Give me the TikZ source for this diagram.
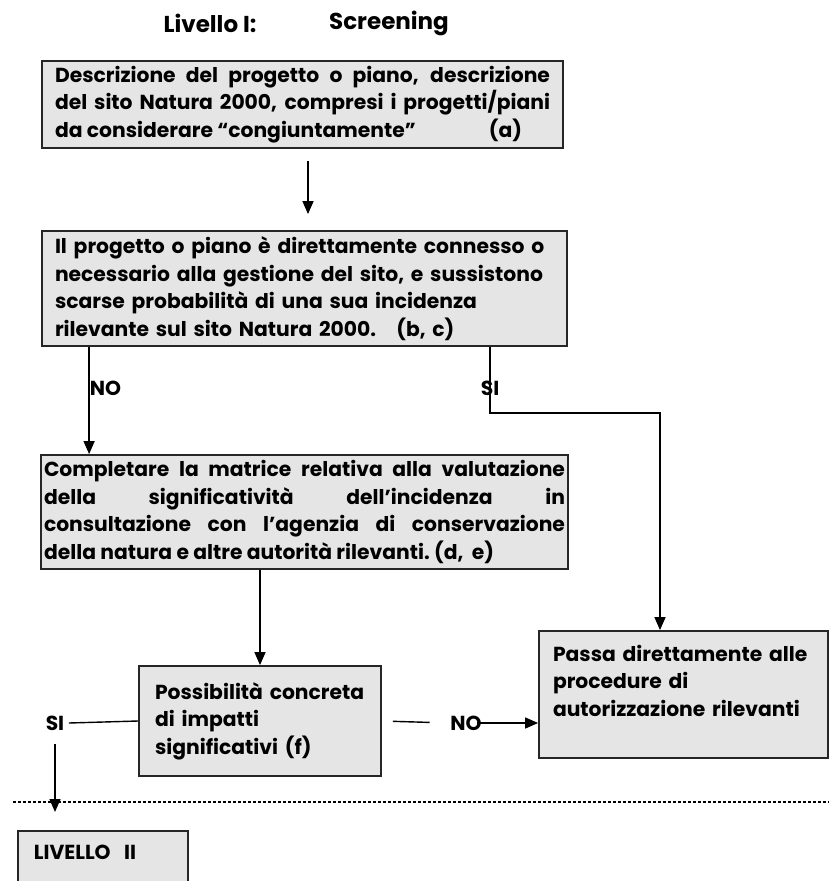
\documentclass[tikz,border=0pt]{standalone}
\usepackage{fontspec}
\setmainfont{Poppins}
\usetikzlibrary{arrows.meta}

\begin{document}
\begin{tikzpicture}[
            x = 1pt, y = -1pt, % one unit per pixel, y pointing down
            > = {Triangle[length=13pt, width=11pt]}, % arrow head style
            line width = 1.4pt, % line style
            font = \bfseries\fontsize{20.3}{27.5}\selectfont
        ]

        \tikzstyle{box}=[
            draw = black!85,
            line width = 1.8pt,
            fill = gray!20,
            inner xsep = 13pt,
            inner ysep = 0pt
        ]
        \tikzstyle{tag}=[
            inner sep = 0pt
        ]
        \tikzstyle{head}=[
            font = \bfseries\fontsize{23}{27}\selectfont
        ]

        \clip (0,0) rectangle (829,881);

        \node[head] (lvl) at (210,23) {Livello I:};
        \node[head] (scr) at (389,23) {Screening};

        \node[box, minimum width = 521pt, minimum height = 87pt, text width = 495pt, align = justify] (desc) at (302.5,104.5)
            {Descrizione del progetto o piano, descrizione\linebreak del sito Natura 2000, compresi i progetti/piani\linebreak da considerare “congiuntamente”\hfill(a)\kern28pt\mbox{}};
        \node[box, minimum width = 525pt, minimum height = 115pt, text width = 499pt, align = left] (conn) at (304.5,288.5)
            {Il progetto o piano è direttamente connesso o\\necessario alla gestione del sito, e sussistono\\scarse probabilità di una sua incidenza\\rilevante sul sito Natura 2000.\quad(b, c)};
        \node[box, inner xsep = 3pt, minimum width = 527pt, minimum height = 114pt, text width = 521pt, align = justify] (matr) at (304.5,512)
            {Completare la matrice relativa alla valutazione\linebreak della significatività dell'incidenza in\linebreak consultazione con l'agenzia di conservazione\linebreak della natura e altre autorità rilevanti.\ (d,\ \ e)};
        \node[box, inner xsep = 16pt, minimum width = 242pt, minimum height = 110pt, text width = 210pt, align = left] (poss) at (260,721)
            {Possibilità concreta\\di impatti\\significativi (f)};
        \node[box, inner xsep = 14pt, minimum width = 289pt, minimum height = 127pt, text width = 261pt, align = left] (pass) at (683.5,694.5)
            {Passa direttamente alle\\procedure di\\autorizzazione rilevanti\\\mbox{}};
        \node[box, inner xsep = 16pt, minimum width = 170pt, minimum height = 70pt, text width = 138pt, align = left, anchor = north west] (lev2) at (17,830)
            {LIVELLO\ \ II\\\mbox{}};

        \node[tag] (siL) at (55,723) {SI};
        \node[tag] (noR) at (466,723) {NO};
        \coordinate (turn) at (660,413);

        \draw[->, shorten <= 12pt, shorten >= 16pt] ([xshift=5.5pt]desc.south) -- ([xshift=3.5pt]conn.north);
        \draw[->] ([xshift=48pt]conn.south west) -- node[tag, pos=0.385, anchor=west] {NO} ([xshift=49pt]matr.north west);
        \draw[->] ([xshift=185.5pt]conn.south) |- node[tag, pos=0.31] {SI} (turn) -- (turn |- pass.north);
        \draw[->] (matr.south -| poss.north) -- (poss.north);
        \draw (poss.west) -- ([xshift=4pt]siL.east);
        \draw[->, shorten <= 13pt, shorten >= 18pt] (siL.south) -- (siL.south |- lev2.north);
        \draw[shorten <= 11pt, shorten >= 20pt] (poss.east) -- (noR.west);
        \draw[->] ([xshift=-5pt]noR.east) -- (noR.east -| pass.west);

        % boundary between the two levels
        \draw[line width = 2.2pt, dash pattern = on 3pt off 2pt] (13,802) -- (829,802);

  \end{tikzpicture}
\end{document}
